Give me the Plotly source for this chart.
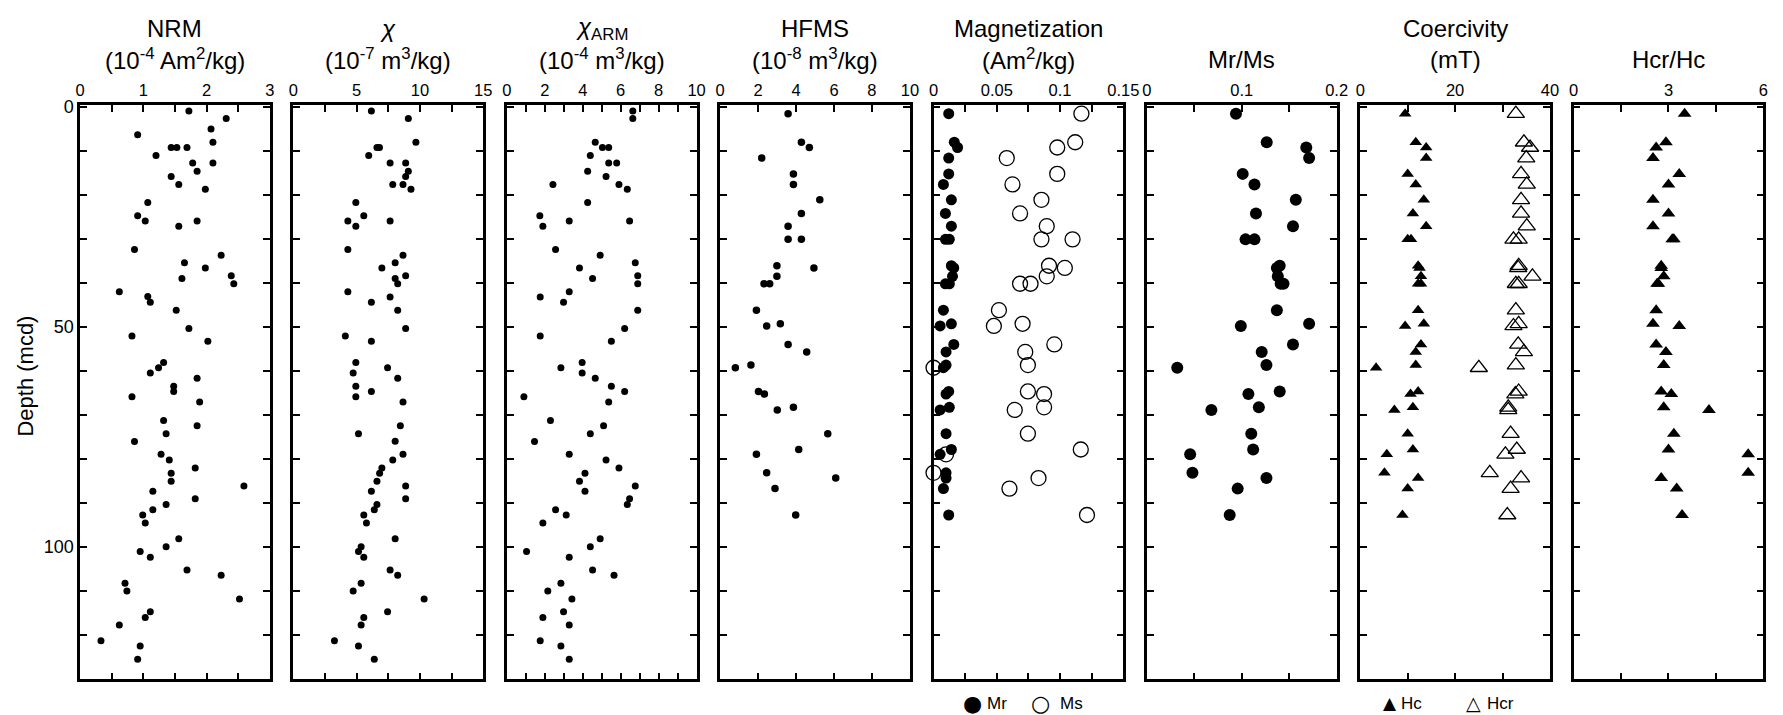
import plotly.graph_objects as go

# ---------------- data (depth in mcd, value) ----------------
nrm_points = [(0.9,1.72),(2.6,2.31),(5.0,2.07),(6.3,0.91),(8.0,2.10),(9.2,1.44),(9.2,1.53),(9.2,1.69),
    (11.0,1.20),(12.7,1.78),(12.7,2.10),(14.6,1.85),(15.8,1.44),(17.6,1.56),(18.7,1.98),(21.7,1.07),
    (24.7,0.91),(25.9,1.03),(25.9,1.85),(27.1,1.56),(32.4,0.86),(33.7,2.23),(35.4,1.65),(36.6,1.98),
    (38.4,2.39),(39.0,1.61),(40.2,2.43),(42.0,0.62),(43.1,1.07),(44.4,1.11),(46.2,1.52),(50.4,1.72),
    (52.1,0.82),(53.3,2.02),(58.1,1.32),(59.3,1.24),(60.5,1.11),(61.7,1.85),(63.5,1.48),(64.7,1.48),
    (65.9,0.82),(67.1,1.89),(71.3,1.32),(72.5,1.85),(74.3,1.36),(76.1,0.86),(79.0,1.28),(80.3,1.41),
    (82.1,1.82),(83.3,1.44),(85.1,1.44),(86.2,2.59),(87.4,1.15),(89.1,1.82),(90.4,1.36),(91.6,1.15),
    (92.8,0.99),(94.6,1.03),(98.2,1.56),(100.0,1.36),(101.1,0.95),(102.4,1.11),(105.3,1.69),(106.5,2.23),
    (108.3,0.71),(110.1,0.74),(111.9,2.52),(114.8,1.11),(116.1,1.03),(117.8,0.62),(121.4,0.33),(122.6,0.95),
    (125.6,0.91)]

chi_points = [(0.9,6.16),(2.6,9.08),(8.0,9.68),(9.2,6.6),(9.2,6.8),(11.0,5.95),(12.7,7.64),(12.7,8.87),
    (14.6,9.08),(15.8,8.87),(17.6,7.85),(17.6,8.66),(18.7,9.29),(21.7,4.93),(24.7,5.56),(25.9,4.30),
    (27.1,4.93),(25.9,7.64),(32.4,4.30),(33.7,8.66),(35.4,8.04),(36.6,6.99),(38.4,8.87),(39.0,8.04),
    (40.2,8.24),(42.0,4.30),(43.2,7.64),(44.4,6.16),(46.2,8.24),(50.4,8.87),(52.1,4.10),(53.3,6.16),
    (58.1,4.93),(59.3,7.44),(60.5,4.72),(61.7,8.24),(63.5,4.93),(65.9,4.93),(64.7,6.16),(67.1,8.66),
    (72.5,8.45),(74.3,5.14),(76.0,8.04),(79.0,8.66),(80.3,7.85),(82.1,6.99),(83.3,6.81),(85.1,6.6),
    (86.2,8.87),(87.4,6.16),(89.1,8.87),(90.4,6.6),(91.6,6.39),(92.8,5.56),(94.6,5.77),(98.2,8.04),
    (100.0,5.35),(101.1,5.14),(102.4,5.56),(105.3,7.64),(106.5,8.24),(108.3,5.35),(110.1,4.72),
    (111.9,10.33),(114.8,7.44),(116.1,5.56),(117.8,5.35),(121.4,3.24),(122.6,5.14),(125.6,6.39)]

arm_points = [(0.9,6.64),(2.6,6.64),(8.0,4.66),(9.2,5.04),(9.2,5.37),(11.0,4.40),(12.7,5.37),(12.7,5.79),
    (14.6,4.26),(15.8,5.23),(17.6,2.43),(17.6,5.91),(18.7,6.35),(21.7,4.26),(24.7,1.74),(27.1,1.90),
    (25.9,3.29),(25.9,6.47),(32.4,2.57),(33.7,4.92),(35.4,6.77),(36.6,3.83),(38.4,6.9),(40.2,6.9),
    (39.0,4.52),(43.2,1.76),(42.0,3.29),(44.4,2.99),(46.2,6.9),(50.4,6.21),(52.1,1.76),(53.3,5.51),
    (58.1,3.97),(59.3,2.85),(60.5,3.97),(61.7,4.66),(63.5,5.51),(64.7,6.21),(65.9,0.90),(67.1,5.37),
    (71.3,2.30),(72.5,5.10),(74.3,4.40),(76.1,1.46),(79.0,3.29),(80.3,5.23),(82.1,5.91),(83.3,4.12),
    (85.1,3.83),(86.2,6.77),(87.4,4.12),(89.1,6.47),(90.4,6.35),(91.6,2.57),(92.8,3.13),(94.6,1.90),
    (98.2,4.92),(100.0,4.40),(101.1,1.04),(102.4,3.29),(105.3,4.52),(106.5,5.65),(108.3,2.85),
    (110.1,2.16),(111.9,3.43),(114.8,2.99),(116.1,1.90),(117.8,3.29),(121.4,1.76),(122.6,2.85),(125.6,3.29)]

sample_depth = [1.5,8.0,9.2,11.6,15.2,17.6,21.1,24.2,27.1,30.1,30.1,36.1,36.6,38.5,40.2,40.2,46.2,49.3,
    49.8,54.0,55.7,58.7,59.3,64.7,65.3,68.3,68.9,74.3,77.9,79.0,83.2,84.4,86.8,92.8]
hfms = [3.58,4.28,4.70,2.19,3.86,3.86,5.25,4.28,3.58,3.58,4.28,2.99,4.94,2.99,2.31,2.61,1.91,3.17,
    2.45,3.58,4.56,1.62,0.80,2.02,2.33,3.86,3.01,5.67,4.14,1.91,2.45,6.09,2.89,3.98]
mr = [0.012,0.0164,0.019,0.012,0.012,0.0078,0.0141,0.0094,0.0141,0.0094,0.0125,0.0141,0.016,0.015,
    0.0094,0.0125,0.0078,0.0141,0.0052,0.016,0.0099,0.0099,0.0078,0.012,0.0099,0.0125,0.0052,0.0099,
    0.0141,0.0052,0.0099,0.0099,0.0078,0.012]
ms = [0.1169,0.112,0.0978,0.0579,0.0978,0.0624,0.0853,0.0684,0.0895,0.0853,0.1099,0.0913,0.1038,0.0895,
    0.0684,0.0767,0.0517,0.0704,0.0477,0.0955,0.0725,0.0746,0.0,0.0746,0.0874,0.0874,0.0642,0.0746,
    0.1164,0.0099,0.0,0.083,0.060,0.1213]
mr_ms = [0.0939,0.1263,0.168,0.171,0.101,0.1134,0.157,0.115,0.154,0.104,0.1134,0.140,0.137,0.138,0.144,
    0.141,0.137,0.171,0.099,0.154,0.121,0.126,0.032,0.140,0.107,0.118,0.068,0.110,0.112,0.0456,0.048,
    0.126,0.0957,0.0873]
hc = [9.46,11.7,13.9,13.9,10.0,11.7,13.4,11.1,13.9,10.0,10.7,12.2,12.5,12.8,12.2,12.8,12.2,13.4,9.46,
    12.8,11.7,11.7,3.34,12.2,10.6,11.1,7.2,10.0,11.1,5.6,5.1,12.2,10.0,8.9]
hcr = [32.8,34.5,35.8,35.0,33.9,35.1,33.9,33.9,35.1,32.3,33.4,33.4,33.3,36.3,32.8,33.4,32.8,33.4,32.3,
    33.3,34.5,32.8,25.0,33.4,32.7,31.2,31.2,31.7,33.0,30.6,27.3,33.9,31.7,31.0]
hcr_hc = [3.51,2.92,2.61,2.51,3.34,3.00,2.51,3.00,2.51,3.17,3.12,2.77,2.77,2.85,2.64,2.68,2.61,2.51,3.34,
    2.61,2.92,2.85,7.5,2.77,3.09,2.85,4.28,3.17,3.00,5.52,5.52,2.77,3.26,3.43]

titles_top = ["NRM", "<i>χ</i>", "<i>χ</i><sub>ARM</sub>", "HFMS", "Magnetization", "", "Coercivity", ""]
titles_sub = ["(10<sup>-4</sup> Am<sup>2</sup>/kg)", "(10<sup>-7</sup> m<sup>3</sup>/kg)",
              "(10<sup>-4</sup> m<sup>3</sup>/kg)", "(10<sup>-8</sup> m<sup>3</sup>/kg)",
              "(Am<sup>2</sup>/kg)", "Mr/Ms", "(mT)", "Hcr/Hc"]
x_max = [3, 15, 10, 10, 0.15, 0.2, 40, 6]
x_minor = [0.5, 2.5, 1, 2, 0.025, 0.05, 10, 1.5]
x_labels = [[0, 1, 2, 3], [0, 5, 10, 15], [0, 2, 4, 6, 8, 10], [0, 2, 4, 6, 8, 10],
            [0, 0.05, 0.1, 0.15], [0, 0.1, 0.2], [0, 20, 40], [0, 3, 6]]
depth_labels = [0, 50, 100]

# ---------------- layout geometry ----------------
W, H = 1783, 715
FONT = "Liberation Sans, Arial, Helvetica, sans-serif"
pleft = [76 + 215.9 * i for i in range(8)]
pw = 192
y_top, y_bot = 98.4, 679
ydom = [1 - y_bot / H, 1 - y_top / H]

fig = go.Figure()

def ax(i):
    return ("x" if i == 0 else f"x{i+1}"), ("y" if i == 0 else f"y{i+1}")

def add(i, xs, ys, **kw):
    xa, ya = ax(i)
    fig.add_trace(go.Scatter(x=xs, y=ys, mode="markers", xaxis=xa, yaxis=ya,
                             showlegend=False, hoverinfo="skip", **kw))

dot = dict(color="black", size=7)
add(0, [v for d, v in nrm_points], [d for d, v in nrm_points], marker=dot)
add(1, [v for d, v in chi_points], [d for d, v in chi_points], marker=dot)
add(2, [v for d, v in arm_points], [d for d, v in arm_points], marker=dot)
add(3, hfms, sample_depth, marker=dict(color="black", size=7.5))
add(4, mr, sample_depth, marker=dict(color="black", size=11), cliponaxis=False)
add(4, ms, sample_depth, marker=dict(symbol="circle-open", color="black", size=15, line=dict(width=1.3)),
    cliponaxis=False)
add(5, mr_ms, sample_depth, marker=dict(color="black", size=12))
add(6, hc, sample_depth, marker=dict(symbol="triangle-up", color="black", size=11))
add(6, hcr, sample_depth, marker=dict(symbol="triangle-up-open", color="black", size=15, line=dict(width=1.3)))
add(7, hcr_hc, sample_depth, marker=dict(symbol="triangle-up", color="black", size=12))

layout = dict(width=W, height=H, margin=dict(l=0, r=0, t=0, b=0),
              plot_bgcolor="white", paper_bgcolor="white",
              font=dict(family=FONT, color="black", size=18))

annotations = []
for i in range(8):
    xa, ya = ax(i)
    x0 = pleft[i] / W
    x1 = (pleft[i] + pw) / W
    n = int(round(x_max[i] / x_minor[i]))
    tv = [round(k * x_minor[i], 6) for k in range(n + 1)]
    tt = [f"{v:g}" if any(abs(v - l) < 1e-9 for l in x_labels[i]) else "" for v in tv]
    layout["xaxis" if i == 0 else f"xaxis{i+1}"] = dict(
        domain=[x0, x1], range=[0, x_max[i]], anchor=ya, side="top",
        showline=True, linewidth=2.5, linecolor="black", mirror="allticks",
        ticks="inside", ticklen=7, tickwidth=2, tickcolor="black",
        tickmode="array", tickvals=tv, ticktext=tt, showgrid=False, zeroline=False,
        tickfont=dict(size=16.5, family=FONT), fixedrange=True)
    yv = list(range(0, 130, 10))
    yt = [str(v) if v in depth_labels else "" for v in yv]
    layout["yaxis" if i == 0 else f"yaxis{i+1}"] = dict(
        domain=ydom, range=[130.2, -0.4], anchor=xa,
        showline=True, linewidth=2.5, linecolor="black", mirror="allticks",
        ticks="inside", ticklen=7, tickwidth=2, tickcolor="black",
        tickmode="array", tickvals=yv, ticktext=yt, showticklabels=(i == 0),
        showgrid=False, zeroline=False, tickfont=dict(size=18, family=FONT), fixedrange=True)
    cx = (pleft[i] + pw / 2) / W
    if titles_top[i]:
        annotations.append(dict(x=cx, y=1 - 20.5 / H, xref="paper", yref="paper", text=titles_top[i],
                                showarrow=False, xanchor="center", yanchor="middle", font=dict(size=24)))
    annotations.append(dict(x=cx, y=1 - 52 / H, xref="paper", yref="paper", text=titles_sub[i],
                            showarrow=False, xanchor="center", yanchor="middle", font=dict(size=24)))

annotations.append(dict(x=21 / W, y=1 - 372 / H, xref="paper", yref="paper", text="Depth (mcd)",
                        textangle=-90, showarrow=False, xanchor="center", yanchor="middle",
                        font=dict(size=22)))

# legends beneath the Magnetization and Coercivity panels
leg_y = 1 - 703 / H
for xpx, txt, sz in [(979, "●", 22), (1048, "○", 22), (1402, "▲", 17), (1486, "△", 19)]:
    annotations.append(dict(x=xpx / W, y=leg_y, xref="paper", yref="paper", text=txt, showarrow=False,
                            xanchor="center", yanchor="middle", font=dict(size=sz, family="DejaVu Sans")))
for xpx, txt in [(992, "Mr"), (1066, "Ms"), (1411, "Hc"), (1498, "Hcr")]:
    annotations.append(dict(x=xpx / W, y=leg_y, xref="paper", yref="paper", text=txt, showarrow=False,
                            xanchor="left", yanchor="middle", font=dict(size=17)))

layout["annotations"] = annotations
fig.update_layout(**layout)
fig.write_html("out.html", config={"displayModeBar": False},
               post_script="document.body.style.margin='0';document.body.style.padding='0';"
                           "document.body.style.overflow='hidden';")
